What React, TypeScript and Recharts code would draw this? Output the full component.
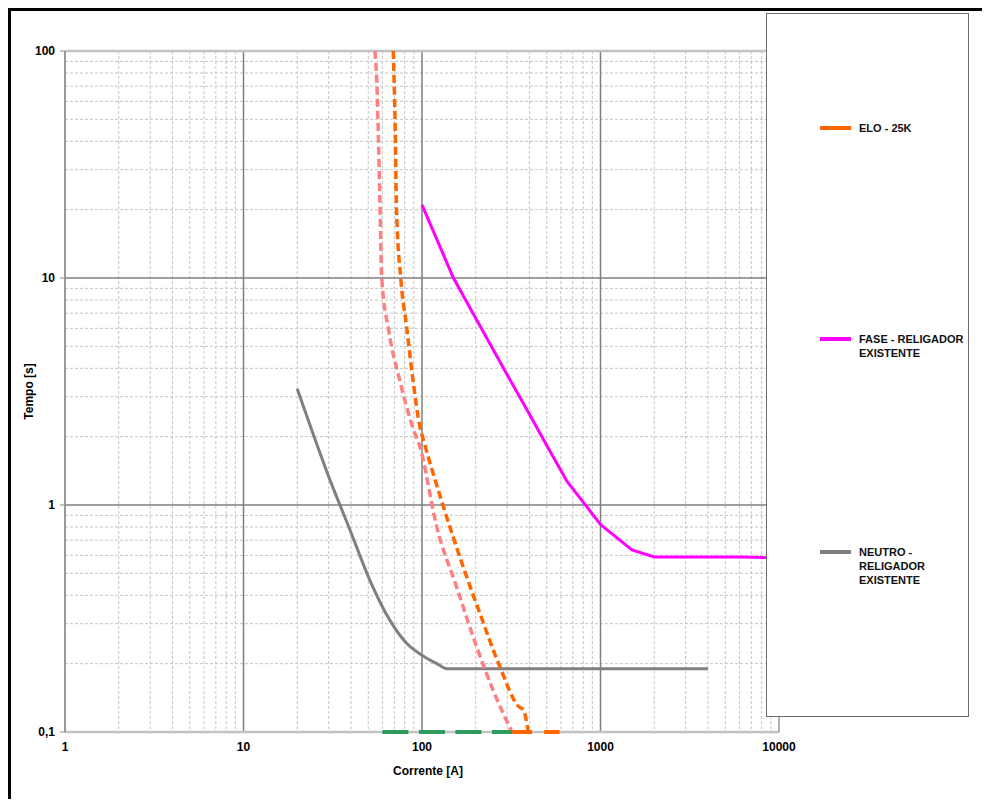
import React from 'react';
import { LineChart, Line, XAxis, YAxis, CartesianGrid, Legend } from 'recharts';

// ---- data ----
const eloI = [69, 70.6, 72, 76, 82, 89, 97.5, 102, 132, 170, 211, 273, 346, 370, 394];
const eloT = [100, 50, 20, 10, 6.1, 3.55, 2.2, 1.93, 0.98, 0.535, 0.333, 0.194, 0.13, 0.125, 0.1];

const eloMinI = [54.5, 55.8, 58, 59.5, 65, 75, 89, 97.5, 121, 156, 202, 250, 319];
const eloMinT = [100, 74, 23, 10, 5.9, 3.55, 2.18, 1.8, 0.8, 0.437, 0.238, 0.153, 0.1];

const faseI = [100, 150, 200, 300, 400, 500, 650, 800, 1000, 1500, 2000, 6000, 10000];
const faseT = [21, 10, 6.65, 3.75, 2.51, 1.83, 1.27, 1.03, 0.82, 0.634, 0.59, 0.59, 0.585];

const neutroI = [20, 30.5, 39.5, 51, 66, 82, 100, 121, 138, 4000];
const neutroT = [3.25, 1.29, 0.776, 0.467, 0.311, 0.246, 0.218, 0.2, 0.19, 0.19];

const greenI = [60, 320];
const greenT = [0.1, 0.1];

const eloBaseI = [320, 590];
const eloBaseT = [0.1, 0.1];

const xTicks = [1, 10, 100, 1000, 10000];
const yTicks = [0.1, 1, 10, 100];
const decadesX = [1, 10, 100, 1000];
const decadesY = [0.1, 1, 10];
const minorSteps = [2, 3, 4, 5, 6, 7, 8, 9];
const majorX = [10, 100, 1000];
const majorY = [1, 10];
const edgeY = [0.1, 100];
const edgeX = [10000];

const names = {
  elo: 'ELO - 25K',
  fase: 'FASE - RELIGADOR EXISTENTE',
  neutro: 'NEUTRO - RELIGADOR EXISTENTE',
};

const toRows = (xs: number[], ys: number[]) => xs.map((x, i) => ({ i: x, t: ys[i] }));

const minorX = decadesX.flatMap((d) => minorSteps.map((k) => d * k));
const minorY = decadesY.flatMap((d) => minorSteps.map((k) => +(d * k).toPrecision(3)));

const FONT = '"Liberation Sans", Arial, sans-serif';

const applyScale = (axis: any, vals: number[]) => {
  if (!axis || !axis.scale) return [];
  const s = axis.scale;
  const f = typeof s === 'function' ? s : (v: number) => s.map(v);
  return vals.map((v) => f(v));
};

const renderLegend = (props: any) => {
  const payload = (props.payload || []).filter((p: any) => p.type !== 'none');
  const tops = [107, 318, 531];
  return (
    <div
      style={{
        boxSizing: 'border-box',
        width: 203,
        height: 704,
        border: '1.5px solid #6e6e6e',
        background: '#fff',
        position: 'relative',
      }}
    >
      {payload.map((e: any, idx: number) => (
        <div key={e.value} style={{ position: 'absolute', left: 0, top: tops[idx] ?? 0, width: 203 }}>
          <div
            style={{
              position: 'absolute',
              left: 53,
              top: 5,
              width: 31,
              height: 4,
              background: e.color,
            }}
          />
          <div
            style={{
              position: 'absolute',
              left: 92,
              top: 0,
              width: 112,
              fontFamily: FONT,
              fontWeight: 'bold',
              fontSize: 11,
              lineHeight: '14px',
              color: '#111',
            }}
          >
            {e.value}
          </div>
        </div>
      ))}
    </div>
  );
};

export default function App() {
  return (
    <div style={{ position: 'relative', width: 982, height: 791, overflow: 'hidden' }}>
      <style>{`html,body{overflow:hidden}`}</style>
      <LineChart
        width={982}
        height={799}
        margin={{ top: 43, right: 211, left: 17, bottom: 45 }}
      >
        <CartesianGrid
          stroke="#c4c4c4"
          strokeDasharray="3 2"
          strokeWidth={1}
          verticalCoordinatesGenerator={({ xAxis }: any) => applyScale(xAxis, minorX)}
          horizontalCoordinatesGenerator={({ yAxis }: any) => applyScale(yAxis, minorY)}
        />
        <CartesianGrid
          stroke="#7f7f7f"
          strokeWidth={1.5}
          verticalCoordinatesGenerator={({ xAxis }: any) => applyScale(xAxis, majorX)}
          horizontalCoordinatesGenerator={({ yAxis }: any) => applyScale(yAxis, majorY)}
        />
        <CartesianGrid
          stroke="#c2c2c2"
          strokeWidth={2.5}
          vertical={false}
          horizontalCoordinatesGenerator={({ yAxis }: any) => applyScale(yAxis, edgeY)}
        />
        <CartesianGrid
          stroke="#9a9a9a"
          strokeWidth={1.5}
          horizontal={false}
          verticalCoordinatesGenerator={({ xAxis }: any) => applyScale(xAxis, edgeX)}
        />
        <XAxis
          dataKey="i"
          type="number"
          scale="log"
          domain={[1, 10000]}
          ticks={xTicks}
          interval={0}
          height={30}
          tickSize={5}
          tickMargin={5}
          tickLine={false}
          axisLine={false}
          tick={{ fontFamily: FONT, fontWeight: 'bold', fontSize: 12, fill: '#000' }}
          label={{
            content: ({ viewBox }: any) => (
              <text
                x={viewBox.x + viewBox.width / 2 + 6}
                y={viewBox.y + 39}
                textAnchor="middle"
                dominantBaseline="central"
                fontFamily={FONT}
                fontWeight="bold"
                fontSize={12}
                fill="#000"
              >
                Corrente [A]
              </text>
            ),
          }}
        />
        <YAxis
          dataKey="t"
          type="number"
          scale="log"
          domain={[0.1, 100]}
          ticks={yTicks}
          interval={0}
          width={40}
          tickSize={5}
          tickMargin={5}
          tickLine={{ stroke: '#888' }}
          axisLine={{ stroke: '#9a9a9a', strokeWidth: 2 }}
          tickFormatter={(v: number) => String(v).replace('.', ',')}
          tick={{ fontFamily: FONT, fontWeight: 'bold', fontSize: 12, fill: '#000' }}
          label={{
            content: ({ viewBox }: any) => {
              const cx = viewBox.x + 4;
              const cy = viewBox.y + viewBox.height / 2;
              return (
                <text
                  x={cx}
                  y={cy}
                  transform={`rotate(-90, ${cx}, ${cy})`}
                  textAnchor="middle"
                  dominantBaseline="central"
                  fontFamily={FONT}
                  fontWeight="bold"
                  fontSize={12}
                  fill="#000"
                >
                  Tempo [s]
                </text>
              );
            },
          }}
        />
        <Legend
          layout="vertical"
          align="center"
          verticalAlign="middle"
          wrapperStyle={{ position: 'absolute', left: 758, top: 5, width: 203, height: 704 }}
          content={renderLegend}
        />
        <Line
          data={toRows(neutroI, neutroT)}
          dataKey="t"
          name={names.neutro}
          type="monotone"
          stroke="#808080"
          strokeWidth={3}
          dot={false}
          activeDot={false}
          isAnimationActive={false}
        />
        <Line
          data={toRows(faseI, faseT)}
          dataKey="t"
          name={names.fase}
          type="linear"
          stroke="#ff00ff"
          strokeWidth={3}
          dot={false}
          activeDot={false}
          isAnimationActive={false}
        />
        <Line
          data={toRows(eloMinI, eloMinT)}
          dataKey="t"
          name="ELO min"
          legendType="none"
          type="monotone"
          stroke="#ff8080"
          strokeWidth={3.5}
          strokeDasharray="8 4"
          dot={false}
          activeDot={false}
          isAnimationActive={false}
        />
        <Line
          data={toRows(eloI, eloT)}
          dataKey="t"
          name={names.elo}
          type="monotone"
          stroke="#ff6600"
          strokeWidth={3.5}
          strokeDasharray="8 4"
          dot={false}
          activeDot={false}
          isAnimationActive={false}
        />
        <Line
          data={toRows(greenI, greenT)}
          dataKey="t"
          name="green"
          legendType="none"
          stroke="#2e9a5c"
          strokeWidth={4}
          strokeDasharray="26 10.5"
          dot={false}
          activeDot={false}
          isAnimationActive={false}
        />
        <Line
          data={toRows(eloBaseI, eloBaseT)}
          dataKey="t"
          name="elo base"
          legendType="none"
          stroke="#ff6600"
          strokeWidth={4}
          strokeDasharray="20 12"
          dot={false}
          activeDot={false}
          isAnimationActive={false}
        />
      </LineChart>
      <div
        style={{
          position: 'absolute',
          left: 0,
          top: 0,
          width: 1100,
          height: 900,
          borderLeft: '3px solid #000',
          borderTop: '3px solid #000',
          pointerEvents: 'none',
        }}
      />
    </div>
  );
}
